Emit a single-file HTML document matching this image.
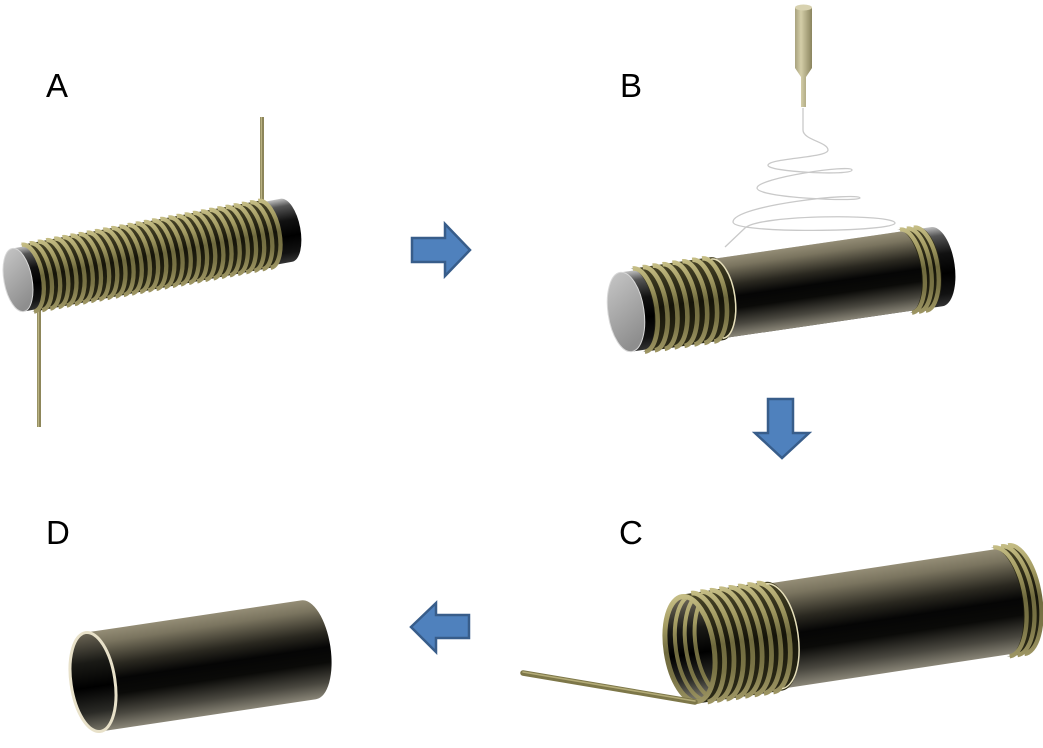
<!DOCTYPE html>
<html><head><meta charset="utf-8"><style>
html,body{margin:0;padding:0;background:#fff;}
svg{display:block;}
text{font-family:"Liberation Sans",Arial,sans-serif;font-size:33px;fill:#000;}
</style></head><body>
<svg width="1043" height="748" viewBox="0 0 1043 748" xmlns="http://www.w3.org/2000/svg">
<defs>
<linearGradient id="gBody" x1="0" y1="0" x2="0" y2="1">
<stop offset="0" stop-color="#948d76"/><stop offset="0.12" stop-color="#7a745f"/>
<stop offset="0.35" stop-color="#2a2820"/><stop offset="0.5" stop-color="#050505"/>
<stop offset="0.65" stop-color="#0a0a08"/><stop offset="0.85" stop-color="#4a4840"/>
<stop offset="1" stop-color="#8a8678"/></linearGradient>
<linearGradient id="gCap" x1="0" y1="0" x2="0" y2="1">
<stop offset="0" stop-color="#c0c0c0"/><stop offset="0.12" stop-color="#555"/>
<stop offset="0.35" stop-color="#111"/><stop offset="0.6" stop-color="#000"/>
<stop offset="0.85" stop-color="#111"/><stop offset="1" stop-color="#333"/></linearGradient>
<linearGradient id="gFace" x1="0" y1="0" x2="0.3" y2="1">
<stop offset="0" stop-color="#c8c8c8"/><stop offset="1" stop-color="#8e8e8e"/></linearGradient>
<linearGradient id="gCoilBase" x1="0" y1="0" x2="0" y2="1">
<stop offset="0" stop-color="#4a4628"/><stop offset="0.5" stop-color="#151409"/>
<stop offset="1" stop-color="#2e2c18"/></linearGradient>
<linearGradient id="gWire" x1="0" y1="0" x2="0" y2="1">
<stop offset="0" stop-color="#c4bc84"/><stop offset="0.25" stop-color="#a39b62"/>
<stop offset="0.5" stop-color="#6f6a3e"/><stop offset="0.75" stop-color="#7a7446"/>
<stop offset="1" stop-color="#9c9462"/></linearGradient>
<linearGradient id="gInner" x1="0" y1="0" x2="0" y2="1">
<stop offset="0" stop-color="#6c6656"/><stop offset="0.3" stop-color="#1a1a16"/>
<stop offset="0.55" stop-color="#000"/><stop offset="0.8" stop-color="#2a2a26"/>
<stop offset="1" stop-color="#7a776a"/></linearGradient>
<linearGradient id="gNoz" x1="0" y1="0" x2="1" y2="0">
<stop offset="0" stop-color="#a8a27e"/><stop offset="0.35" stop-color="#d4cea8"/>
<stop offset="1" stop-color="#8a845e"/></linearGradient>
<clipPath id="cFront"><ellipse cx="0" cy="0" rx="21.5" ry="50.5"/></clipPath>
</defs>

<!-- Labels -->
<text x="46" y="97">A</text>
<text x="620" y="97">B</text>
<text x="619" y="544">C</text>
<text x="46" y="544">D</text>

<!-- Arrows -->
<g fill="#4f81bd" stroke="#385d8a" stroke-width="2.5" stroke-linejoin="miter">
<polygon points="412,238 445,238 445,224 470,250 445,276 445,262 412,262"/>
<polygon points="768,399 793,399 793,433 809,433 782,458 755,433 768,433"/>
<polygon points="469,615 436,615 436,603 411,627 436,652 436,638 469,638"/>
</g>

<!-- A leads -->
<line x1="262" y1="117" x2="262" y2="210" stroke="#8d865a" stroke-width="4"/>
<line x1="39" y1="305" x2="39" y2="427" stroke="#8d865a" stroke-width="4"/>
<line x1="261.3" y1="117" x2="261.3" y2="210" stroke="#c4bd8c" stroke-width="1"/>
<line x1="38.3" y1="305" x2="38.3" y2="427" stroke="#c4bd8c" stroke-width="1"/>

<!-- A cylinder -->
<g transform="translate(18,280) rotate(-10.5)">
<path d="M0,-32 L273,-32 A14,32 0 0 1 273,32 L0,32 Z" fill="url(#gCap)"/>
<path d="M8,-34 L252,-34 A15,34 0 0 1 252,34 L8,34 A15,34 0 0 0 8,-34 Z" fill="url(#gCoilBase)"/>
<path fill="none" stroke="url(#gWire)" stroke-width="4.3" d="M10,-34 a15,34 0 0 1 0,68 m8.3,-68 a15,34 0 0 1 0,68 m8.3,-68 a15,34 0 0 1 0,68 m8.3,-68 a15,34 0 0 1 0,68 m8.3,-68 a15,34 0 0 1 0,68 m8.3,-68 a15,34 0 0 1 0,68 m8.3,-68 a15,34 0 0 1 0,68 m8.3,-68 a15,34 0 0 1 0,68 m8.3,-68 a15,34 0 0 1 0,68 m8.3,-68 a15,34 0 0 1 0,68 m8.3,-68 a15,34 0 0 1 0,68 m8.3,-68 a15,34 0 0 1 0,68 m8.3,-68 a15,34 0 0 1 0,68 m8.3,-68 a15,34 0 0 1 0,68 m8.3,-68 a15,34 0 0 1 0,68 m8.3,-68 a15,34 0 0 1 0,68 m8.3,-68 a15,34 0 0 1 0,68 m8.3,-68 a15,34 0 0 1 0,68 m8.3,-68 a15,34 0 0 1 0,68 m8.3,-68 a15,34 0 0 1 0,68 m8.3,-68 a15,34 0 0 1 0,68 m8.3,-68 a15,34 0 0 1 0,68 m8.3,-68 a15,34 0 0 1 0,68 m8.3,-68 a15,34 0 0 1 0,68 m8.3,-68 a15,34 0 0 1 0,68 m8.3,-68 a15,34 0 0 1 0,68 m8.3,-68 a15,34 0 0 1 0,68 m8.3,-68 a15,34 0 0 1 0,68 m8.3,-68 a15,34 0 0 1 0,68 m8.3,-68 a15,34 0 0 1 0,68"/>
<ellipse cx="0" cy="0" rx="14" ry="32" fill="url(#gFace)" stroke="#d8d8d8" stroke-width="1"/>
</g>

<!-- B nozzle -->
<path d="M795,8 L812,8 L812,68 L806,77 L806,107 L801,107 L801,77 L795,68 Z" fill="url(#gNoz)"/>
<ellipse cx="803.5" cy="7.5" rx="8.5" ry="3" fill="#d8d2b0"/>
<!-- B fiber -->
<path d="M803,108 L803,130 C803,140 828,142 828,150 C828,158 770,158 768,165 C766,172 852,176 852,170 C852,164 757,178 757,188 C757,198 860,202 860,198 C860,192 733,205 733,222 C733,234 895,232 895,223 C895,214 760,214 745,228 L725,247" fill="none" stroke="#c9c9c9" stroke-width="1.3"/>

<!-- B cylinder -->
<g transform="translate(626,312) rotate(-8.3)">
<path d="M0,-40 L314,-40 A18,40 0 0 1 314,40 L0,40 Z" fill="url(#gCap)"/>
<path d="M10,-42 L92,-42 A18,42 0 0 1 92,42 L10,42 A18,42 0 0 0 10,-42 Z" fill="url(#gCoilBase)"/>
<path fill="none" stroke="url(#gWire)" stroke-width="4.6" d="M13,-42 a18,42 0 0 1 0,84 m10,-84 a18,42 0 0 1 0,84 m10,-84 a18,42 0 0 1 0,84 m10,-84 a18,42 0 0 1 0,84 m10,-84 a18,42 0 0 1 0,84 m10,-84 a18,42 0 0 1 0,84 m10,-84 a18,42 0 0 1 0,84 m10,-84 a18,42 0 0 1 0,84"/>
<path d="M92,-40 L282,-40 A18,40 0 0 1 282,40 L92,40 A18,40 0 0 0 92,-40 Z" fill="url(#gBody)"/>
<path d="M92,-40 A18,40 0 0 1 92,40" fill="none" stroke="#e6dfba" stroke-width="1.5"/>
<path d="M280,-42 L300,-42 A18,42 0 0 1 300,42 L280,42 A18,42 0 0 0 280,-42 Z" fill="url(#gCoilBase)"/>
<path fill="none" stroke="url(#gWire)" stroke-width="4.3" d="M283,-42 a18,42 0 0 1 0,84 m7,-84 a18,42 0 0 1 0,84 m7,-84 a18,42 0 0 1 0,84"/>
<ellipse cx="0" cy="0" rx="18" ry="40" fill="url(#gFace)" stroke="#d8d8d8" stroke-width="1"/>
</g>

<!-- C cylinder -->
<g transform="translate(690,649) rotate(-8.6)">
<path d="M0,-53 L330,-53 A24,53 0 0 1 330,53 L0,53 Z" fill="url(#gBody)"/>
<path d="M0,-55 L85,-55 A24,55 0 0 1 85,55 L0,55 A24,55 0 0 1 0,-55 Z" fill="url(#gCoilBase)"/>
<ellipse cx="0" cy="0" rx="21.5" ry="50.5" fill="url(#gInner)"/>
<g clip-path="url(#cFront)">
<path fill="none" stroke="url(#gWire)" stroke-width="4" d="M10,-53 A24,53 0 0 0 10,53 M20,-53 A24,53 0 0 0 20,53 M30,-53 A24,53 0 0 0 30,53"/>
</g>
<path fill="none" stroke="url(#gWire)" stroke-width="4.8" d="M9.5,-55 a24,55 0 0 1 0,110 m9.5,-110 a24,55 0 0 1 0,110 m9.5,-110 a24,55 0 0 1 0,110 m9.5,-110 a24,55 0 0 1 0,110 m9.5,-110 a24,55 0 0 1 0,110 m9.5,-110 a24,55 0 0 1 0,110 m9.5,-110 a24,55 0 0 1 0,110 m9.5,-110 a24,55 0 0 1 0,110"/>
<ellipse cx="0" cy="0" rx="24" ry="53" fill="none" stroke="url(#gWire)" stroke-width="5"/>
<path d="M85,-53 A24,53 0 0 1 85,53" fill="none" stroke="#e6dfba" stroke-width="1.5"/>
<path d="M312,-55 L328,-55 A24,55 0 0 1 328,55 L312,55 A24,55 0 0 0 312,-55 Z" fill="url(#gCoilBase)"/>
<path fill="none" stroke="url(#gWire)" stroke-width="4.3" d="M315,-55 a24,55 0 0 1 0,110 m8,-110 a24,55 0 0 1 0,110 m7,-110 a24,55 0 0 1 0,110"/>
</g>
<!-- C lead -->
<line x1="523" y1="673" x2="695" y2="702" stroke="#7d7749" stroke-width="5.5" stroke-linecap="round"/>
<line x1="523" y1="672" x2="695" y2="701" stroke="#b4ac78" stroke-width="1.5" stroke-linecap="round"/>

<!-- D tube -->
<g transform="translate(93,682) rotate(-8.5)">
<path d="M0,-50 L218,-50 A22,50 0 0 1 218,50 L0,50 A22,50 0 0 1 0,-50 Z" fill="url(#gBody)"/>
<ellipse cx="0" cy="0" rx="22" ry="50" fill="url(#gInner)" stroke="#e8e1c9" stroke-width="3"/>
</g>
</svg>
</body></html>
